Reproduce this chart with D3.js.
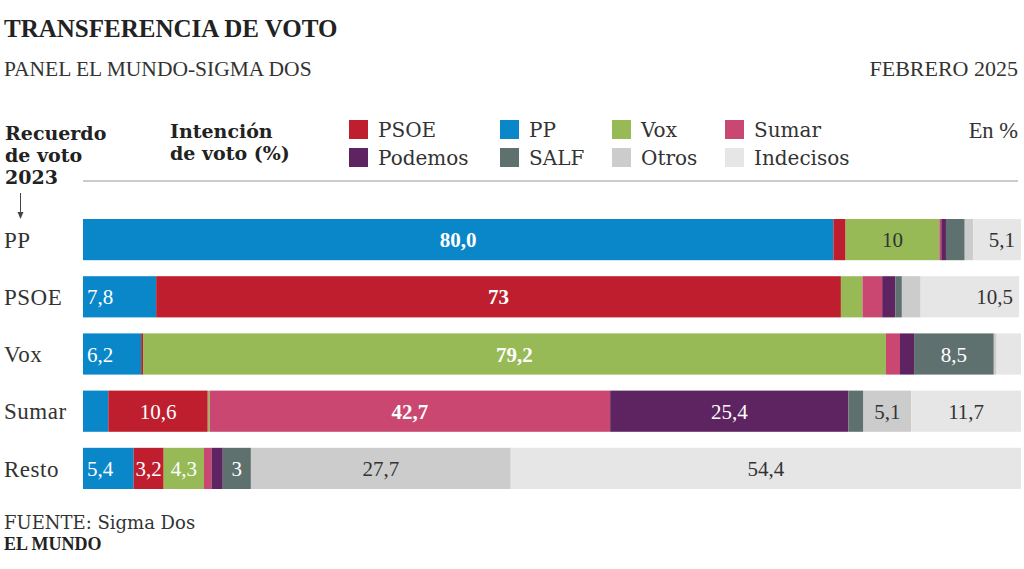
<!DOCTYPE html>
<html>
<head>
<meta charset="utf-8">
<script src="https://cdn.jsdelivr.net/npm/d3@7"></script>
<style>
  html, body { margin: 0; padding: 0; background: #fff; }
  svg { display: block; }
  text { font-family: "Liberation Serif", "DejaVu Serif", serif; fill: #222; }
  .dv { font-family: "DejaVu Serif", serif; }
</style>
</head>
<body>
<svg id="chart" width="1024" height="569"></svg>
<script>
// ---- DATA ----
const categories = ["PP", "PSOE", "Vox", "Sumar", "Resto"];
const parties = ["PSOE", "PP", "Vox", "Sumar", "Podemos", "SALF", "Otros", "Indecisos"]; // legend order
const stackOrder = ["PP", "PSOE", "Vox", "Sumar", "Podemos", "SALF", "Otros", "Indecisos"];
const colors = ["#BE1E2D", "#0A87C9", "#97BA57", "#C94771", "#5E2461", "#5F716F", "#CCCCCC", "#E6E6E6"];

const ppValues        = [80.0, 7.8, 6.2, 2.7, 5.4];
const psoeValues      = [1.3, 73.0, 0.2, 10.6, 3.2];
const voxValues       = [10.0, 2.3, 79.2, 0.2, 4.3];
const sumarValues     = [0.2, 2.1, 1.5, 42.7, 0.8];
const podemosValues   = [0.5, 1.4, 1.5, 25.4, 1.2];
const salfValues      = [2.0, 0.7, 8.5, 1.6, 3.0];
const otrosValues     = [0.9, 2.0, 0.3, 5.1, 27.7];
const indecisosValues = [5.1, 10.5, 2.6, 11.7, 54.4];

const ppLabels        = ["80,0", "7,8", "6,2", "", "5,4"];
const psoeLabels      = ["", "73", "", "10,6", "3,2"];
const voxLabels       = ["10", "", "79,2", "", "4,3"];
const sumarLabels     = ["", "", "", "42,7", ""];
const podemosLabels   = ["", "", "", "25,4", ""];
const salfLabels      = ["", "", "8,5", "", "3"];
const otrosLabels     = ["", "", "", "5,1", "27,7"];
const indecisosLabels = ["5,1", "10,5", "", "11,7", "54,4"];

const seriesValues = {PP: ppValues, PSOE: psoeValues, Vox: voxValues, Sumar: sumarValues,
  Podemos: podemosValues, SALF: salfValues, Otros: otrosValues, Indecisos: indecisosValues};
const seriesLabels = {PP: ppLabels, PSOE: psoeLabels, Vox: voxLabels, Sumar: sumarLabels,
  Podemos: podemosLabels, SALF: salfLabels, Otros: otrosLabels, Indecisos: indecisosLabels};

// ---- CHART ----
const svg = d3.select("#chart");
const color = d3.scaleOrdinal().domain(parties).range(colors);
const darkText = new Set(["Otros", "Indecisos"]);

const table = categories.map((c, i) => {
  const row = {cat: c};
  stackOrder.forEach(p => row[p] = seriesValues[p][i]);
  return row;
});
const stacked = d3.stack().keys(stackOrder)(table);

const x = d3.scaleLinear().domain([0, 100]).range([83, 1021]);
const y = d3.scaleBand().domain(categories).range([211, 497]).paddingInner(0.28).paddingOuter(0.14);

// Titles
svg.append("text").attr("x", 4).attr("y", 37).text("TRANSFERENCIA DE VOTO")
  .style("font-size", "25px").style("font-weight", "bold");
svg.append("text").attr("x", 4).attr("y", 76).text("PANEL EL MUNDO-SIGMA DOS")
  .style("font-size", "21.5px").style("fill", "#333");
svg.append("text").attr("x", 1018).attr("y", 76).attr("text-anchor", "end").text("FEBRERO 2025")
  .style("font-size", "22px").style("fill", "#333");

// Header texts
const hdr1 = svg.append("text").attr("class", "dv").attr("x", 5).attr("y", 140)
  .style("font-size", "19px").style("font-weight", "bold");
["Recuerdo", "de voto", "2023"].forEach((t, i) => hdr1.append("tspan").attr("x", 5).attr("dy", i ? 22 : 0).text(t));
const hdr2 = svg.append("text").attr("class", "dv").attr("x", 170).attr("y", 138)
  .style("font-size", "19px").style("font-weight", "bold");
["Intención", "de voto (%)"].forEach((t, i) => hdr2.append("tspan").attr("x", 170).attr("dy", i ? 22 : 0).text(t));
svg.append("text").attr("x", 1018).attr("y", 138).attr("text-anchor", "end").text("En %")
  .style("font-size", "22.5px").style("fill", "#333");

// Legend
const legX = [349, 500, 612, 725];
const legend = svg.append("g");
parties.forEach((p, i) => {
  const col = i % 4, row = Math.floor(i / 4);
  const gx = legX[col], gy = 120 + row * 28;
  legend.append("rect").attr("x", gx).attr("y", gy).attr("width", 19).attr("height", 19).attr("fill", color(p));
  legend.append("text").attr("class", "dv").attr("x", gx + 29).attr("y", gy + 17).text(p)
    .style("font-size", "20px").style("fill", "#333");
});

// Rule
svg.append("line").attr("x1", 83).attr("x2", 1018).attr("y1", 181).attr("y2", 181)
  .attr("stroke", "#999").attr("stroke-width", 1.2);

// Arrow
svg.append("line").attr("x1", 20.5).attr("x2", 20.5).attr("y1", 193).attr("y2", 217)
  .attr("stroke", "#444").attr("stroke-width", 1);
svg.append("path").attr("d", "M17.5,212 L23.5,212 L20.5,219 Z").attr("fill", "#444");

// Category axis labels
const yAxis = d3.axisLeft(y).tickSize(0).tickPadding(0);
const yg = svg.append("g").call(yAxis);
yg.select(".domain").remove();
yg.selectAll("text").attr("x", 4).attr("text-anchor", "start").attr("dy", "0.36em")
  .style("font-size", "23px").style("fill", "#333").style("letter-spacing", "0.5px")
  .style("font-family", "'Liberation Serif', serif");

// Bars
const groups = svg.append("g").selectAll("g").data(stacked).join("g").attr("fill", d => color(d.key));
groups.selectAll("rect").data(d => d.map(s => ({s, key: d.key}))).join("rect")
  .attr("x", d => x(d.s[0]))
  .attr("y", d => y(d.s.data.cat))
  .attr("width", d => Math.max(0, x(d.s[1]) - x(d.s[0])))
  .attr("height", y.bandwidth());

// Value labels
const labelData = [];
stacked.forEach(layer => {
  layer.forEach((s, i) => {
    const lab = seriesLabels[layer.key][i];
    if (!lab) return;
    const isMain = layer.key === categories[i];
    let anchor = "middle", lx = (x(s[0]) + x(s[1])) / 2;
    if (layer.key === "PP" && !isMain) { anchor = "start"; lx = x(s[0]) + 4; }
    if (layer.key === "Indecisos" && (i === 0 || i === 1)) { anchor = "end"; lx = x(s[1]) - 6; }
    let fill = darkText.has(layer.key) ? "#333" : "#fff";
    if (layer.key === "Vox" && i === 0) fill = "#333";
    labelData.push({lab, lx, anchor, fill, bold: isMain, cy: y(categories[i]) + y.bandwidth() / 2});
  });
});
svg.append("g").selectAll("text").data(labelData).join("text")
  .attr("x", d => d.lx).attr("y", d => d.cy).attr("dy", "0.36em")
  .attr("text-anchor", d => d.anchor)
  .text(d => d.lab)
  .style("font-size", "21px")
  .style("font-weight", d => d.bold ? "bold" : "normal")
  .style("fill", d => d.fill);

// Footer
svg.append("text").attr("class", "dv").attr("x", 4).attr("y", 529)
  .style("font-size", "18px").style("fill", "#333").text("FUENTE: Sigma Dos");
svg.append("text").attr("x", 4).attr("y", 550).text("EL MUNDO").style("font-size", "18px").style("font-weight", "bold");
</script>
</body>
</html>
